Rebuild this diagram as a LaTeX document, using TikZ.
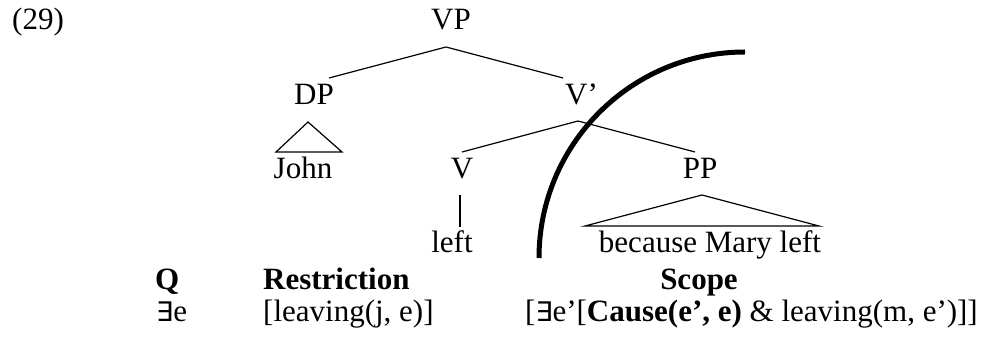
\documentclass[tikz,border=0pt]{standalone}
\usepackage{fontspec}
\setmainfont{Liberation Serif}
\newfontfamily\exfont{DejaVu Sans}
\newcommand{\exq}{{\exfont\fontsize{27}{27}\selectfont ∃}}
\begin{document}
\begin{tikzpicture}[x=1pt,y=1pt,
  lbl/.style={inner sep=0pt, anchor=base, font=\fontsize{31}{37}\selectfont},
  lblL/.style={lbl, anchor=base west},
  branch/.style={line width=1.2pt, line join=miter},
  cut/.style={line width=5pt}]
\useasboundingbox (0,0) rectangle (992,339);
% labels
\node[lblL] (num) at (12,309) {(29)};
\node[lbl] (VP) at (451,309) {VP};
\node[lbl] (DP) at (314,234) {DP};
\node[lblL] (Vbar) at (565,234) {V’};
\node[lbl] (John) at (303,160) {John};
\node[lbl] (V) at (462,160) {V};
\node[lbl] (PP) at (700,160) {PP};
\node[lbl] (left) at (452,86) {left};
\node[lbl] (bml) at (710,86) {because Mary left};
\node[lblL] (Qh) at (155,49) {\bfseries Q};
\node[lblL] (Rh) at (263,49) {\bfseries Restriction};
\node[lbl] (Sh) at (699,49) {\bfseries Scope};
\node[lblL] (Qv) at (156,17) {\exq e};
\node[lblL] (Rv) at (263,17) {[leaving(j, e)]};
\node[lblL] (Sv) at (525,17) {[\exq e’[\textbf{Cause(e’, e)} \& leaving(m, e’)]]};
% branch points
\coordinate (vp-b) at (446,292);
\coordinate (dp-t) at (329,261);
\coordinate (vb-t) at (563,261);
\coordinate (dp-b) at (308,217);
\coordinate (john-l) at (276,187);
\coordinate (john-r) at (342,187);
\coordinate (vb-b) at (578,218);
\coordinate (v-t) at (462,187);
\coordinate (pp-t) at (695,187);
\coordinate (v-b) at (460,144);
\coordinate (left-t) at (460,112);
\coordinate (pp-b) at (702,144);
\coordinate (bml-l) at (585,113);
\coordinate (bml-r) at (819,113);
% branches
\draw[branch] (dp-t) -- (vp-b) -- (vb-t);
\draw[branch] (john-l) -- (dp-b) -- (john-r) -- cycle;
\draw[branch] (v-t) -- (vb-b) -- (pp-t);
\draw[branch] (v-b) -- (left-t);
\draw[branch] (bml-l) -- (pp-b) -- (bml-r) -- cycle;
% cut arc
\coordinate (arc-c) at (745,81);
\draw[cut] ([shift={(0,206)}]arc-c) arc[start angle=90, end angle=180, radius=206];
\end{tikzpicture}
\end{document}
